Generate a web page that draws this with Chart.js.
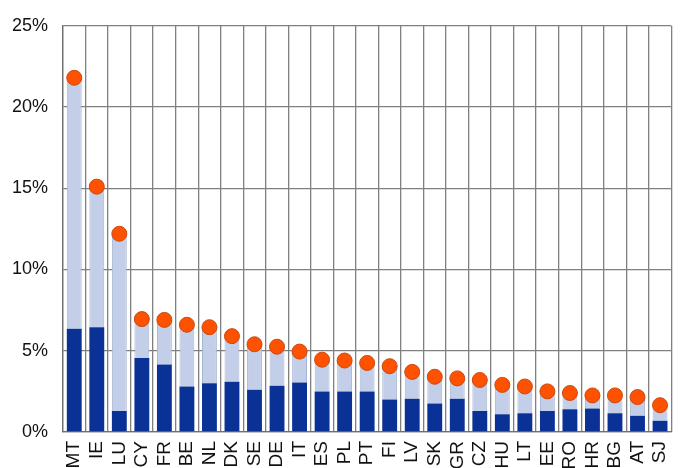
<!DOCTYPE html>
<html>
<head>
<meta charset="utf-8">
<script src="https://cdn.jsdelivr.net/npm/chart.js@4/dist/chart.umd.min.js"></script>
<style>
    html, body { margin: 0; padding: 0; background: #ffffff; }
    #wrap { width: 692px; height: 468px; position: relative; }
</style>
</head>
<body>
<div id="wrap"><canvas id="barChart"></canvas></div>
<script>
// Country codes along the x axis
const countries = ['MT', 'IE', 'LU', 'CY', 'FR', 'BE', 'NL', 'DK', 'SE', 'DE', 'IT', 'ES', 'PL', 'PT',
    'FI', 'LV', 'SK', 'GR', 'CZ', 'HU', 'LT', 'EE', 'RO', 'HR', 'BG', 'AT', 'SJ'];

// Lower (dark blue) part, in percent
const lowerPart = [6.35, 6.45, 1.3, 4.55, 4.15, 2.8, 3.0, 3.1, 2.6, 2.85, 3.05, 2.5, 2.5, 2.5,
    2.0, 2.05, 1.75, 2.05, 1.3, 1.1, 1.15, 1.3, 1.4, 1.45, 1.15, 1.0, 0.7];

// Total (orange marker), in percent
const totals = [21.8, 15.1, 12.2, 6.95, 6.9, 6.6, 6.45, 5.9, 5.4, 5.25, 4.95, 4.45, 4.4, 4.25,
    4.05, 3.7, 3.4, 3.3, 3.2, 2.9, 2.8, 2.5, 2.4, 2.25, 2.25, 2.15, 1.65];

// Y axis tick steps
const yTicks = [0, 5, 10, 15, 20, 25];

// Upper (light blue) part is what remains above the dark part
const upperPart = totals.map((t, i) => Math.max(0, t - lowerPart[i]));

const ctx = document.getElementById('barChart').getContext('2d');
const chart = new Chart(ctx, {
    type: 'bar',
    data: {
        labels: countries,
        datasets: [
            {
                type: 'line',
                label: 'Total',
                data: totals,
                showLine: false,
                pointRadius: 7.5,
                pointBackgroundColor: '#ff5200',
                pointBorderColor: '#c84a10',
                pointBorderWidth: 1,
                order: 0
            },
            {
                label: 'Lower',
                data: lowerPart,
                backgroundColor: '#0a3296',
                borderWidth: 0,
                barPercentage: 0.66,
                categoryPercentage: 1.0,
                stack: 's',
                order: 1
            },
            {
                label: 'Upper',
                data: upperPart,
                backgroundColor: '#c3cfe8',
                borderColor: '#a9b5d2',
                borderWidth: { left: 1, right: 1, top: 0, bottom: 0 },
                barPercentage: 0.66,
                categoryPercentage: 1.0,
                stack: 's',
                order: 1
            }
        ]
    },
    options: {
        responsive: true,
        maintainAspectRatio: false,
        animation: false,
        layout: { padding: { top: 22, left: 0, right: 0, bottom: 0 } },
        plugins: {
            legend: { display: false },
            tooltip: { enabled: false }
        },
        scales: {
            x: {
                stacked: true,
                offset: true,
                grid: {
                    offset: true,
                    color: '#808080',
                    lineWidth: 1.3,
                    drawTicks: false
                },
                border: { color: '#707070', width: 1.3 },
                ticks: {
                    autoSkip: false,
                    minRotation: 90,
                    maxRotation: 90,
                    padding: 9,
                    color: '#111111',
                    font: { family: 'Liberation Sans, Arial, sans-serif', size: 19 }
                },
                afterFit: function (axis) { axis.height = 36; }
            },
            y: {
                stacked: true,
                min: 0,
                max: 25,
                afterBuildTicks: function (axis) {
                    axis.ticks = yTicks.map(v => ({ value: v }));
                },
                grid: {
                    color: '#808080',
                    lineWidth: 1.3,
                    drawTicks: false
                },
                border: { color: '#707070', width: 1.3 },
                ticks: {
                    padding: 15,
                    color: '#111111',
                    font: { family: 'Liberation Sans, Arial, sans-serif', size: 18 },
                    callback: v => v + '%'
                },
                afterFit: function (axis) { axis.width = 63; }
            }
        }
    }
});
</script>
</body>
</html>
